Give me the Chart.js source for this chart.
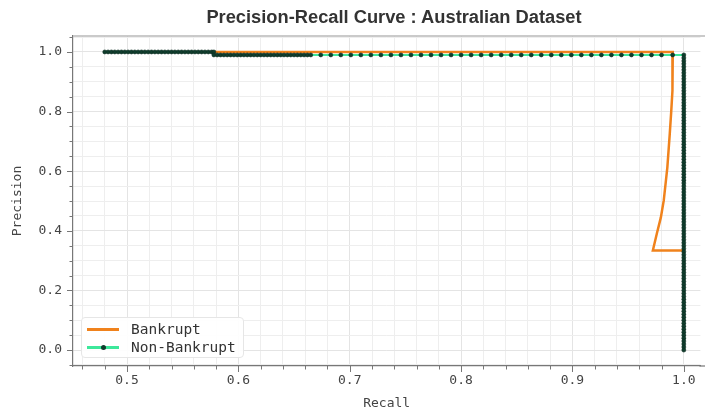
<!DOCTYPE html>
<html>
<head>
<meta charset="utf-8">
<script src="https://cdn.jsdelivr.net/npm/chart.js@4.4.0/dist/chart.umd.min.js"></script>
<style>
  html, body { margin: 0; padding: 0; background: #fff; }
  #wrap { position: relative; width: 705px; height: 407px; }
  #title {
    position: absolute; left: 78px; width: 632px; top: 6px; text-align: center;
    font-family: "Liberation Sans", Arial, sans-serif; font-weight: bold; font-size: 18.3px; color: #333;
  }
  #legend {
    position: absolute; left: 81px; top: 317px; width: 161px; height: 39px;
    background: rgba(255,255,255,0.9); border: 1px solid #e6e6e6; border-radius: 4px;
    font-family: "DejaVu Sans Mono", monospace; font-size: 14.5px; color: #333;
  }
  .row { position: absolute; left: 5px; height: 18px; line-height: 18px; }
  .swatch { position: absolute; left: 0; top: 8px; width: 32px; height: 2.5px; }
  .dot { position: absolute; left: 14px; top: -1.5px; width: 5px; height: 5px; border-radius: 50%; background: #103d2d; }
  .label { position: absolute; left: 44px; top: 0; white-space: nowrap; }
</style>
</head>
<body>
<div id="wrap">
  <canvas id="prChart" width="705" height="407"></canvas>
  <div id="title">Precision-Recall Curve : Australian Dataset</div>
  <div id="legend">
    <div class="row" style="top:2px"><div class="swatch" style="background:#f0821c"></div><div class="label">Bankrupt</div></div>
    <div class="row" style="top:20px"><div class="swatch" style="background:#3de89b"><div class="dot"></div></div><div class="label">Non-Bankrupt</div></div>
  </div>
</div>
<script>
// データ
const bankruptRecall    = [0.578, 0.9901, 0.9899, 0.9897, 0.9887, 0.9874, 0.9852, 0.9820, 0.9794, 0.9758, 0.9722, 1.000];
const bankruptPrecision = [1.000, 1.000,  0.940,  0.870,  0.800,  0.726,  0.612,  0.502,  0.445,  0.391,  0.334,  0.334];

// Non-Bankrupt: precision 1.0 segment
const nbHighRecall = [0.480, 0.483, 0.486, 0.489, 0.492, 0.495, 0.498, 0.501, 0.504, 0.507, 0.510, 0.513,
  0.516, 0.519, 0.522, 0.525, 0.528, 0.531, 0.534, 0.537, 0.540, 0.543, 0.546, 0.549, 0.552, 0.555,
  0.558, 0.561, 0.564, 0.567, 0.570, 0.573, 0.576, 0.578];
const nbHighPrecision = 1.0;
// Non-Bankrupt: precision 0.99 segment
const nbMidRecall = [0.578, 0.581, 0.584, 0.587, 0.590, 0.593, 0.596, 0.599, 0.602, 0.605, 0.608, 0.611,
  0.614, 0.617, 0.620, 0.623, 0.626, 0.629, 0.632, 0.635, 0.638, 0.641, 0.644, 0.647, 0.650, 0.653,
  0.656, 0.659, 0.662, 0.665, 0.674, 0.683, 0.692, 0.701, 0.710, 0.719, 0.728, 0.737, 0.746, 0.755,
  0.764, 0.773, 0.782, 0.791, 0.800, 0.809, 0.818, 0.827, 0.836, 0.845, 0.854, 0.863, 0.872, 0.881,
  0.890, 0.899, 0.908, 0.917, 0.926, 0.935, 0.944, 0.953, 0.962, 0.971, 0.980, 0.990, 1.000];
const nbMidPrecision = 0.99;
// Non-Bankrupt: recall 1.0 segment
const nbEndRecall = 1.0;
const nbEndPrecision = [0.98, 0.97, 0.96, 0.95, 0.94, 0.93, 0.92, 0.91, 0.90, 0.89, 0.88, 0.87, 0.86,
  0.85, 0.84, 0.83, 0.82, 0.81, 0.80, 0.79, 0.78, 0.77, 0.76, 0.75, 0.74, 0.73, 0.72, 0.71, 0.70,
  0.69, 0.68, 0.67, 0.66, 0.65, 0.64, 0.63, 0.62, 0.61, 0.60, 0.59, 0.58, 0.57, 0.56, 0.55, 0.54,
  0.53, 0.52, 0.51, 0.50, 0.49, 0.48, 0.47, 0.46, 0.45, 0.44, 0.43, 0.42, 0.41, 0.40, 0.39, 0.38,
  0.37, 0.36, 0.35, 0.34, 0.33, 0.32, 0.31, 0.30, 0.29, 0.28, 0.27, 0.26, 0.25, 0.24, 0.23, 0.22,
  0.21, 0.20, 0.19, 0.18, 0.17, 0.16, 0.15, 0.14, 0.13, 0.12, 0.11, 0.10, 0.09, 0.08, 0.07, 0.06,
  0.05, 0.04, 0.03, 0.02, 0.01, 0.00];

const xTickLabels = ["0.5", "0.6", "0.7", "0.8", "0.9", "1.0"];
const yTickLabels = ["0.0", "0.2", "0.4", "0.6", "0.8", "1.0"];

// 点データ組み立て
const bankruptPoints = bankruptRecall.map((r, i) => ({ x: r, y: bankruptPrecision[i] }));
const nonBankruptPoints = [
  ...nbHighRecall.map(r => ({ x: r, y: nbHighPrecision })),
  ...nbMidRecall.map(r => ({ x: r, y: nbMidPrecision })),
  ...nbEndPrecision.map(p => ({ x: nbEndRecall, y: p }))
];

// 目盛り（主・副）
function stepTicks(from, to, step) {
  const out = [];
  for (let v = from; v <= to + 1e-9; v += step) out.push({ value: Math.round(v * 1000) / 1000 });
  return out;
}
const xMajor = xTickLabels.map(Number);
const yMajor = yTickLabels.map(Number);
const isMajor = (list, v) => list.some(m => Math.abs(m - v) < 1e-6);

const axisDecor = {
  id: "axisDecor",
  afterDraw(chart) {
    const { ctx, chartArea: a, scales: { x, y } } = chart;
    ctx.save();
    ctx.strokeStyle = "#b8b8b8";
    ctx.lineWidth = 1.5;
    ctx.beginPath(); ctx.moveTo(a.left, a.top); ctx.lineTo(705, a.top); ctx.stroke();
    ctx.strokeStyle = "#777";
    ctx.lineWidth = 1.2;
    ctx.beginPath(); ctx.moveTo(a.right - 1, a.bottom); ctx.lineTo(705, a.bottom); ctx.stroke();
    ctx.lineWidth = 1;
    x.ticks.forEach(t => {
      const px = Math.round(x.getPixelForValue(t.value)) + 0.5;
      const len = isMajor(xMajor, t.value) ? 6 : 3.5;
      ctx.beginPath(); ctx.moveTo(px, a.bottom); ctx.lineTo(px, a.bottom + len); ctx.stroke();
    });
    y.ticks.forEach(t => {
      const py = Math.round(y.getPixelForValue(t.value)) + 0.5;
      const len = isMajor(yMajor, t.value) ? 6 : 3.5;
      ctx.beginPath(); ctx.moveTo(a.left, py); ctx.lineTo(a.left - len, py); ctx.stroke();
    });
    ctx.restore();
  }
};

const mono = "'DejaVu Sans Mono', monospace";

new Chart(document.getElementById("prChart"), {
  type: "scatter",
  data: {
    datasets: [
      {
        label: "Bankrupt",
        data: bankruptPoints,
        showLine: true,
        borderColor: "#f0821c",
        borderWidth: 2.5,
        pointRadius: 0,
        order: 2
      },
      {
        label: "Non-Bankrupt",
        data: nonBankruptPoints,
        showLine: true,
        borderColor: "#3de89b",
        borderWidth: 2,
        pointRadius: 2,
        pointBackgroundColor: "#103d2d",
        pointBorderColor: "#0b2c20",
        pointBorderWidth: 0.6,
        order: 1
      }
    ]
  },
  options: {
    responsive: false,
    animation: false,
    layout: { padding: { top: 36, left: 0, right: 0, bottom: 0 } },
    plugins: {
      legend: { display: false },
      tooltip: { enabled: false },
      title: { display: false }
    },
    scales: {
      x: {
        type: "linear",
        min: 0.4515,
        max: 1.0149,
        afterBuildTicks: s => { s.ticks = stepTicks(0.46, 1.0, 0.02); },
        afterFit: s => { s.height = 41; s.paddingLeft = 0; s.paddingRight = 0; },
        grid: {
          drawTicks: false,
          color: ctx => isMajor(xMajor, ctx.tick.value) ? "#e4e4e4" : "#eeeeee",
          lineWidth: 1
        },
        border: { color: "#777", width: 1.2 },
        ticks: {
          autoSkip: false,
          maxRotation: 0,
          padding: 7,
          color: "#444",
          font: { family: mono, size: 13 },
          callback: v => {
            const i = xMajor.findIndex(m => Math.abs(m - v) < 1e-6);
            return i >= 0 ? xTickLabels[i] : "";
          }
        },
        title: {
          display: true,
          text: "Recall",
          color: "#444",
          font: { family: mono, size: 13 },
          padding: { top: 0, bottom: -4 }
        }
      },
      y: {
        type: "linear",
        min: -0.0535,
        max: 1.0535,
        afterBuildTicks: s => { s.ticks = stepTicks(-0.05, 1.05, 0.05); },
        afterFit: s => { s.width = 73; s.paddingTop = 0; s.paddingBottom = 0; },
        grid: {
          drawTicks: false,
          color: ctx => isMajor(yMajor, ctx.tick.value) ? "#e4e4e4" : "#eeeeee",
          lineWidth: 1
        },
        border: { color: "#777", width: 1.2 },
        ticks: {
          autoSkip: false,
          padding: 11,
          color: "#444",
          font: { family: mono, size: 13 },
          callback: v => {
            const i = yMajor.findIndex(m => Math.abs(m - v) < 1e-6);
            return i >= 0 ? yTickLabels[i] : "";
          }
        },
        title: {
          display: true,
          text: "Precision",
          color: "#444",
          font: { family: mono, size: 13 },
          padding: { top: 10, bottom: 0 }
        }
      }
    }
  },
  plugins: [axisDecor]
});
</script>
</body>
</html>
